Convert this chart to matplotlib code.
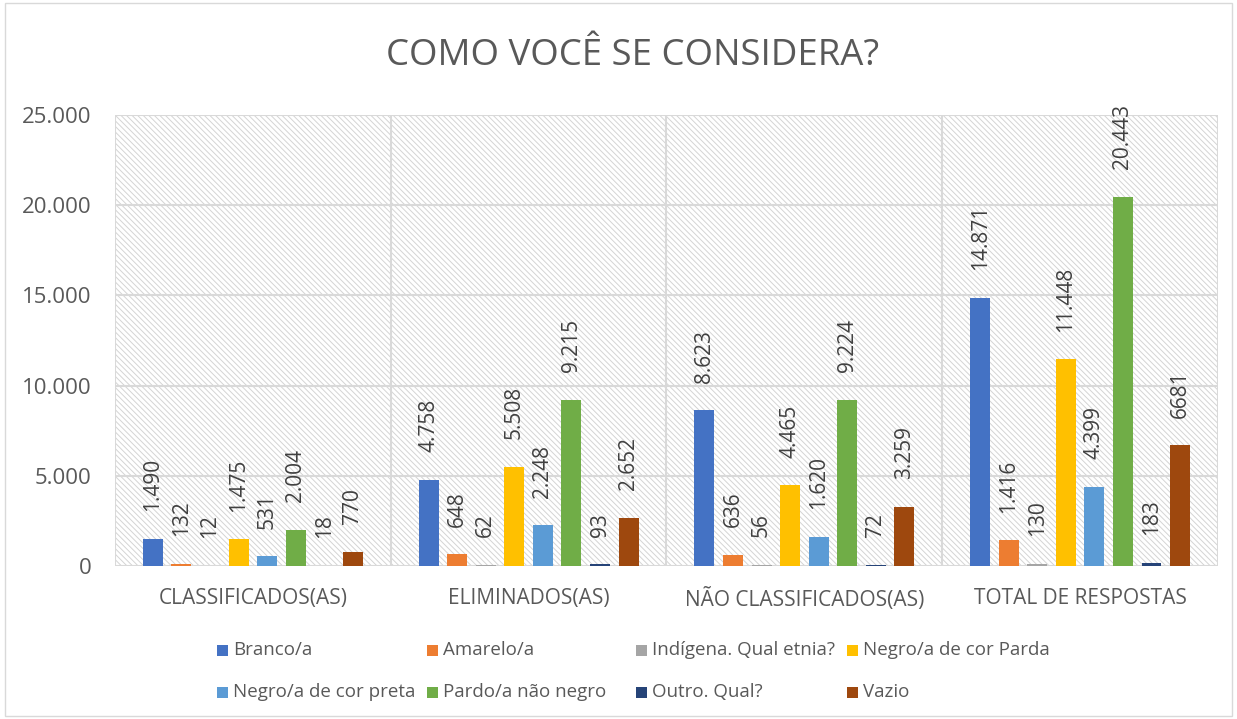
import matplotlib
matplotlib.use("Agg")
import matplotlib.pyplot as plt
from matplotlib.patches import Rectangle
import numpy as np

# dados
categorias = ["CLASSIFICADOS(AS)", "ELIMINADOS(AS)", "NÃO CLASSIFICADOS(AS)", "TOTAL DE RESPOSTAS"]
series = ["Branco/a", "Amarelo/a", "Indígena. Qual etnia?", "Negro/a de cor Parda",
          "Negro/a de cor preta", "Pardo/a não negro", "Outro. Qual?", "Vazio"]
cores = ["#4472C4", "#ED7D31", "#A5A5A5", "#FFC000", "#5B9BD5", "#70AD47", "#264478", "#9E480E"]

branco = [1490, 4758, 8623, 14871]
amarelo = [132, 648, 636, 1416]
indigena = [12, 62, 56, 130]
negro_parda = [1475, 5508, 4465, 11448]
negro_preta = [531, 2248, 1620, 4399]
pardo = [2004, 9215, 9224, 20443]
outro = [18, 93, 72, 183]
vazio = [770, 2652, 3259, 6681]
valores = [branco, amarelo, indigena, negro_parda, negro_preta, pardo, outro, vazio]

# no original o ultimo rotulo aparece sem separador
sem_separador = {(7, 3)}

yticks = [0, 5000, 10000, 15000, 20000, 25000]

cinza = "#595959"
plt.rcParams['font.family'] = ['Open Sans', 'DejaVu Sans']
plt.rcParams['hatch.linewidth'] = 0.7


def fmt(v):
    return f"{v:,}".replace(",", ".")


fig = plt.figure(figsize=(12.37, 7.19), dpi=100)
ax = fig.add_axes([0.093, 0.2128, 0.8916, 0.6272])

# fundo hachurado
ax.add_patch(Rectangle((0, 0), 1, 1, transform=ax.transAxes, facecolor="white",
                       edgecolor="#d4d4d4", hatch="\\" * 6, lw=0, zorder=0))

x = np.arange(len(categorias))
passo = 0.1036
largura = 0.0725
for i, (nome, cor, vals) in enumerate(zip(series, cores, valores)):
    pos = x + (i - 3.5) * passo
    ax.bar(pos, vals, largura, color=cor, zorder=3, label=nome)
    for j, (px, v) in enumerate(zip(pos, vals)):
        txt = str(v) if (i, j) in sem_separador else fmt(v)
        ax.annotate(txt, (px, v), xytext=(0, 20), textcoords="offset points",
                    rotation=90, ha="center", va="bottom", fontsize=15, color="#404040")

ax.set_xlim(-0.5, 3.5)
ax.set_ylim(0, 25000)
ax.set_yticks(yticks)
ax.set_yticklabels([fmt(v) for v in yticks], fontsize=16, color=cinza)
ax.set_xticks(x)
ax.set_xticklabels(categorias, fontsize=15, color=cinza)
ax.tick_params(length=0)
ax.tick_params(axis="x", pad=16)
ax.tick_params(axis="y", pad=17)

for v in yticks:
    ax.axhline(v, color="#d9d9d9", lw=1.5, zorder=1)
for b in np.arange(-0.5, 4, 1):
    ax.axvline(b, color="#d9d9d9", lw=1.5, zorder=1)
for s in ax.spines.values():
    s.set_visible(False)

fig.text(633 / 1237, 1 - 56 / 719, "COMO VOCÊ SE CONSIDERA?", ha="center", va="center",
         fontsize=26.3, color=cinza)

# legenda
col_x = [217, 427, 636, 847]
row_y = [650, 692]
for k, (nome, cor) in enumerate(zip(series, cores)):
    lx = col_x[k % 4] / 1237
    cy = 1 - row_y[k // 4] / 719
    fig.patches.append(Rectangle((lx, cy - 5.5 / 719), 11 / 1237, 11 / 719,
                                 transform=fig.transFigure, facecolor=cor, lw=0))
    fig.text(lx + 16 / 1237, cy, nome, ha="left", va="center", fontsize=13.5, color=cinza)

fig.patches.append(Rectangle((5 / 1237, 3 / 719), 1227 / 1237, 713 / 719,
                             transform=fig.transFigure, facecolor="none",
                             edgecolor="#d9d9d9", lw=1))

fig.savefig("out.png", dpi=100)
